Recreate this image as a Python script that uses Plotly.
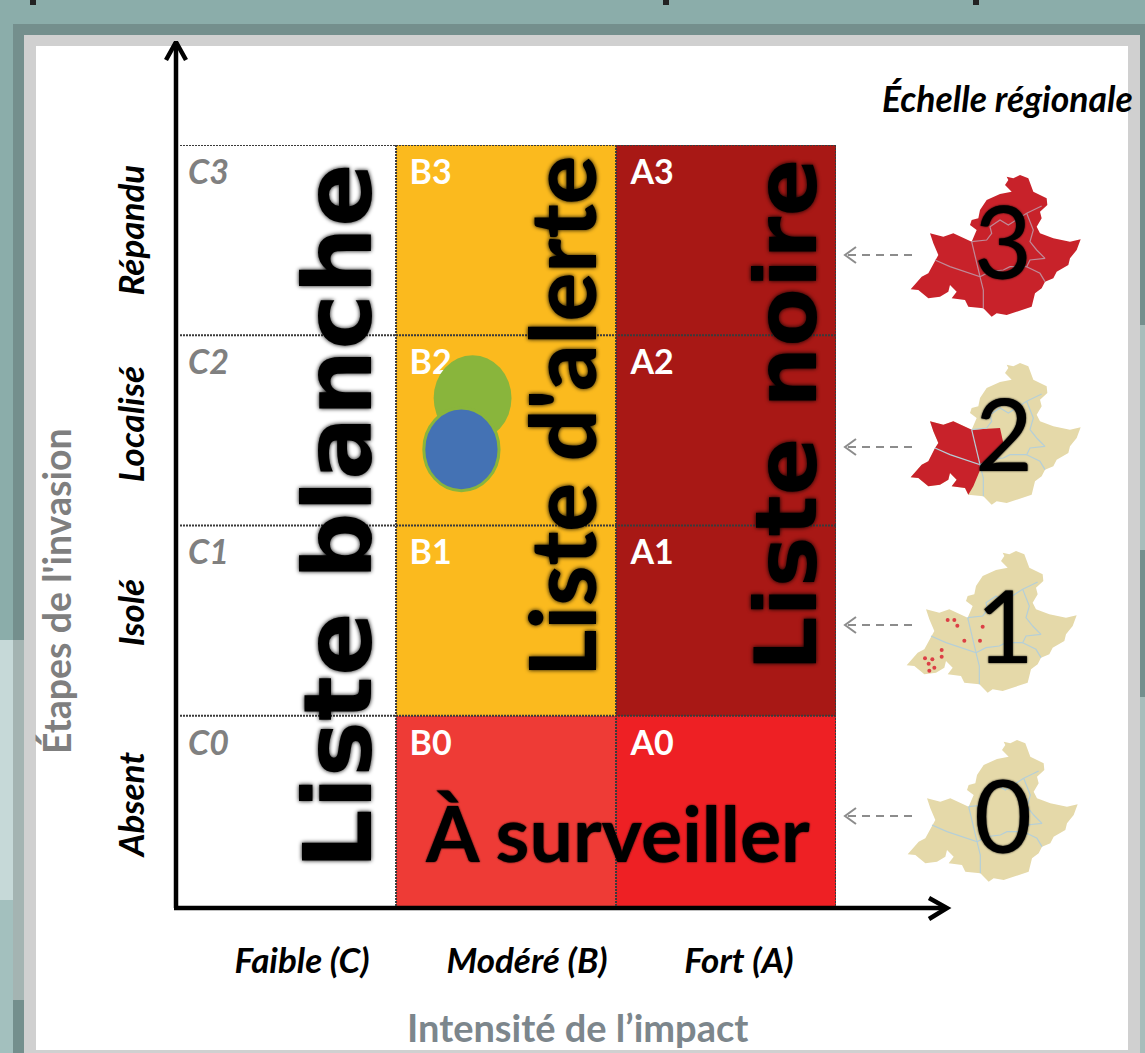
import plotly.graph_objects as go

# ---- data ----
impact_labels = ["Faible (C)", "Modéré (B)", "Fort (A)"]
stage_labels = ["Absent", "Isolé", "Localisé", "Répandu"]
impact_ticks = [0.558, 1.587, 2.556]
stage_ticks = [0.508, 1.515, 2.505, 3.525]
x_edges = [0, 0.988, 1.994, 3]
y_edges = [0, 1, 2, 3, 4]
cell_codes = [[0, 1, 2], [0, 3, 4], [0, 3, 4], [0, 3, 4]]
cell_colors = ["#FFFFFF", "#EE3B36", "#EE2024", "#FBBA1E", "#A81815"]
c_labels = ["C0", "C1", "C2", "C3"]
b_labels = ["B0", "B1", "B2", "B3"]
a_labels = ["A0", "A1", "A2", "A3"]
label_rows = [0.84, 1.84, 2.84, 3.84]
label_cols = [0.037, 1.05, 2.06]
bubble_x = [1.338, 1.287]
bubble_y = [2.67, 2.40]
bubble_rx = [0.178, 0.172]
bubble_ry = [0.225, 0.217]
bubble_fill = ["#89B53C", "#4472B4"]
map_x = [500,520,540,565,580,620,622,600,605,590,600,640,690,722,710,690,685,650,640,615,605,585,575,530,500,470,455,430,385,375,335,350,330,325,300,265,235,212,245,265,285,295,280,270,290,310,340,370,395,410,390,395,415,420,440,480,515,495,505]
map_y = [320,325,315,325,365,385,405,425,445,470,490,505,515,508,540,565,585,605,625,635,655,670,710,725,735,730,740,715,710,690,685,665,645,665,680,685,660,658,620,610,570,555,520,490,495,500,490,505,515,480,465,450,445,420,390,372,365,345,330]
west_x = [385,375,335,350,330,325,300,265,235,212,245,265,285,295,280,270,290,310,340,370,395,480,490,470,425,400]
west_y = [710,690,685,665,645,665,680,685,660,658,620,610,570,555,520,490,495,500,490,505,515,510,555,605,625,685]
border_lines = [
    ([285,330,420,430,430], [570,590,620,660,715]),
    ([395,405,420], [515,560,620]),
    ([395,440,455,450,480,505,560,605], [515,510,490,470,450,465,430,408]),
    ([560,580,570,590,615,570,560,600,615], [430,480,515,540,565,570,590,610,635]),
    ([420,450,490,510,560], [620,605,600,590,590]),
]
map_scale = 1 / 3
map_origin = [(840, 70), (840, 258), (836, 446), (837, 635)]  # level 3, 2, 1, 0
dots_x = [323,343,352,428,373,420,305,305,255,277,266,283,268]
dots_y = [300,300,317,320,362,362,390,410,415,418,431,443,452]
level_numbers = ["3", "2", "1", "0"]
level_x = [1003, 1004, 1005, 1003]
level_y = [240, 432, 624, 814]
arrow_y = [255, 447, 625, 816]

BEIGE = "#E5D9A9"
RED = "#C8222A"

fig = go.Figure()

fig.add_trace(go.Heatmap(
    x=x_edges, y=y_edges, z=cell_codes, zmin=0, zmax=4, showscale=False, hoverinfo="skip",
    colorscale=[[0, cell_colors[0]], [0.125, cell_colors[0]], [0.125, cell_colors[1]], [0.375, cell_colors[1]],
                [0.375, cell_colors[2]], [0.625, cell_colors[2]], [0.625, cell_colors[3]], [0.875, cell_colors[3]],
                [0.875, cell_colors[4]], [1, cell_colors[4]]],
))

for col, labels, color, style in [(0, c_labels, "#808080", "italic"), (1, b_labels, "white", "normal"), (2, a_labels, "white", "normal")]:
    fig.add_trace(go.Scatter(
        x=[label_cols[col]] * 4, y=label_rows, text=labels, mode="text", textposition="middle right",
        textfont=dict(family="Lato", size=34, color=color, weight=700, style=style), showlegend=False,
    ))


def px_map(xs, ys, origin):
    return ([origin[0] + v * map_scale for v in xs], [origin[1] + v * map_scale for v in ys])


for i, origin in enumerate(map_origin):
    mx, my = px_map(map_x, map_y, origin)
    fig.add_trace(go.Scatter(x=mx + mx[:1], y=my + my[:1], xaxis="x2", yaxis="y2", mode="lines", fill="toself",
                             fillcolor=RED if i == 0 else BEIGE, line=dict(width=0), showlegend=False))
    if i == 1:
        wx, wy = px_map(west_x, west_y, origin)
        fig.add_trace(go.Scatter(x=wx + wx[:1], y=wy + wy[:1], xaxis="x2", yaxis="y2", mode="lines", fill="toself",
                                 fillcolor=RED, line=dict(width=0), showlegend=False))
    for bx, by in border_lines:
        lx, ly = px_map(bx, by, origin)
        fig.add_trace(go.Scatter(x=lx, y=ly, xaxis="x2", yaxis="y2", mode="lines", showlegend=False,
                                 line=dict(width=1.2, color="#B5CFD8" if i > 0 else "#C08A98")))

fig.add_trace(go.Scatter(x=[840 + v / 3 for v in dots_x], y=[520 + v / 3 for v in dots_y], xaxis="x2", yaxis="y2",
                         mode="markers", marker=dict(size=4, color="#DC3F45"), showlegend=False))

for ay in arrow_y:
    fig.add_trace(go.Scatter(x=[848, 916], y=[ay, ay], xaxis="x2", yaxis="y2", mode="lines", showlegend=False,
                             line=dict(color="#8C8C8C", width=2, dash="8px 6px")))
    fig.add_trace(go.Scatter(x=[856, 845, 856], y=[ay - 8, ay, ay + 8], xaxis="x2", yaxis="y2", mode="lines",
                             showlegend=False, line=dict(color="#8C8C8C", width=2)))

# chart axis arrows
fig.add_trace(go.Scatter(x=[176, 176], y=[908, 42], xaxis="x2", yaxis="y2", mode="lines", showlegend=False,
                         line=dict(color="black", width=4.5)))
fig.add_trace(go.Scatter(x=[174, 946], y=[908, 908], xaxis="x2", yaxis="y2", mode="lines", showlegend=False,
                         line=dict(color="black", width=4.5)))
fig.add_trace(go.Scatter(x=[166, 176, 186], y=[60, 42, 60], xaxis="x2", yaxis="y2", mode="lines", showlegend=False,
                         line=dict(color="black", width=4.5)))
fig.add_trace(go.Scatter(x=[929, 947, 929], y=[898, 908, 919], xaxis="x2", yaxis="y2", mode="lines", showlegend=False,
                         line=dict(color="black", width=4.5)))

shapes = []
W, H = 1145, 1053


def rect(x0, y0, x1, y1, color):
    shapes.append(dict(type="rect", xref="paper", yref="paper", x0=x0 / W, y0=1 - y0 / H, x1=x1 / W, y1=1 - y1 / H,
                       layer="below", fillcolor=color, line=dict(width=0)))


# picture background and frame
rect(0, 640, 13, 900, "#C6D9D8")
rect(0, 900, 13, 1053, "#A3C0BE")
rect(13, 24, 1145, 1053, "#748F8D")
rect(13, 640, 24, 1000, "#A4B4B2")
rect(1140, 325, 1145, 550, "#A8BDBB")
rect(1140, 697, 1145, 1053, "#A8BDBB")
rect(24, 35, 1140, 1053, "#D0D0D0")
rect(36, 46, 1128, 1050, "#FFFFFF")
for sx in (30, 663, 973):
    rect(sx, 0, sx + 6, 5, "#222222")

# dotted grid
for v in x_edges[1:]:
    shapes.append(dict(type="line", xref="x", yref="y", x0=v, x1=v, y0=0, y1=4, layer="above",
                       line=dict(color="#3A3A3A", width=2, dash="2px 1px")))
for v in y_edges[1:]:
    shapes.append(dict(type="line", xref="x", yref="y", x0=0, x1=3, y0=v, y1=v, layer="above",
                       line=dict(color="#3A3A3A", width=2, dash="2px 1px")))

for cx, cy, rx, ry, col in zip(bubble_x, bubble_y, bubble_rx, bubble_ry, bubble_fill):
    shapes.append(dict(type="circle", xref="x", yref="y", x0=cx - rx, x1=cx + rx, y0=cy - ry, y1=cy + ry, layer="above",
                       fillcolor=col, line=dict(color="#89B53C", width=3 if col != "#89B53C" else 0)))

annotations = []


def note(text, x, y, size, color="black", family="Lato", weight=400, style="normal", angle=0, shadow="none"):
    annotations.append(dict(text=text, x=x, y=y, xref="x2", yref="y2", showarrow=False, xanchor="center",
                            yanchor="middle", textangle=angle,
                            font=dict(family=family, size=size, color=color, weight=weight, style=style, shadow=shadow)))


BLUR = "0 0 4px #000"
note("Liste blanche", 338, 516, 94, family="DejaVu Sans", weight=700, angle=-90, shadow=BLUR)
note("Liste d'alerte", 560, 417, 91, family="Lato", weight=900, angle=-90, shadow=BLUR)
note("Liste noire", 786, 415, 85.5, family="DejaVu Sans", weight=700, angle=-90, shadow=BLUR)
note("À surveiller", 617, 832, 77, family="Lato", weight=700, shadow="0 0 2px #000")
note("Échelle régionale", 1007, 98, 35.5, weight=700, style="italic")
note("Étapes de l'invasion", 56, 591, 37.5, color="#7F7F7F", weight=700, angle=-90)
note("Intensité de l’impact", 577, 1027, 38, color="#7C868C", weight=700)
for t, x, y in zip(level_numbers, level_x, level_y):
    note(t, x, y, 100, shadow="0 0 2px #000")

fig.update_layout(
    width=W, height=H, margin=dict(l=0, r=0, t=0, b=0), paper_bgcolor="#8BADAA", plot_bgcolor="rgba(0,0,0,0)",
    showlegend=False, shapes=shapes, annotations=annotations,
    xaxis=dict(domain=[180 / W, 836 / W], range=[0, 3], anchor="y", showgrid=False, zeroline=False,
               tickmode="array", tickvals=impact_ticks, ticktext=impact_labels, ticks="", ticklabelstandoff=31,
               tickfont=dict(family="Lato", size=35, color="black", weight=700, style="italic"), automargin=False),
    yaxis=dict(domain=[1 - 906 / H, 1 - 145 / H], range=[0, 4], anchor="x", showgrid=False, zeroline=False,
               tickmode="array", tickvals=stage_ticks, ticktext=stage_labels, ticks="", tickangle=-90, ticklabelstandoff=28,
               tickfont=dict(family="Lato", size=35, color="black", weight=700, style="italic"), automargin=False),
    xaxis2=dict(domain=[0, 1], range=[0, W], anchor="y2", visible=False, fixedrange=True),
    yaxis2=dict(domain=[0, 1], range=[H, 0], anchor="x2", visible=False, fixedrange=True),
)

fig.write_html("out.html", config=dict(displayModeBar=False),
               post_script="document.body.style.margin='0';document.documentElement.style.overflow='hidden';")
